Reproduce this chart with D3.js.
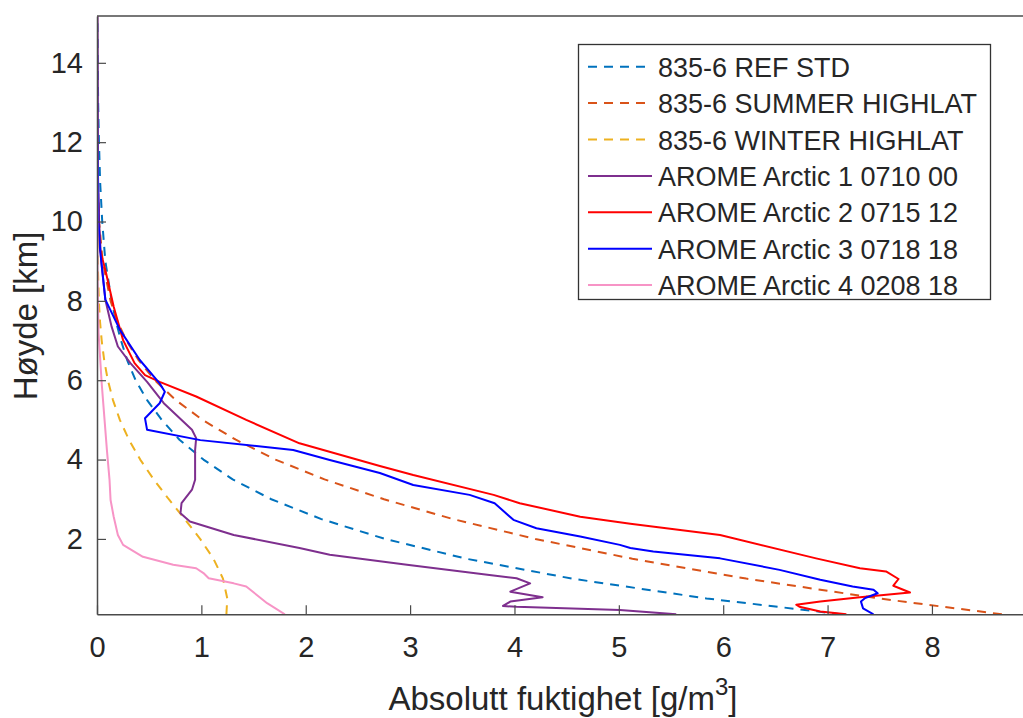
<!DOCTYPE html>
<html><head><meta charset="utf-8">
<script src="https://cdn.jsdelivr.net/npm/d3@7"></script>
<style>
body{margin:0;background:#fff}
svg{display:block}
text{font-family:"Liberation Sans",Arial,Helvetica,sans-serif;fill:#262626}
</style>
</head><body>
<svg id="c" width="1023" height="718"></svg>
<script>
// ---- data (heights in km, absolute humidity in g/m^3) ----
const stdHeights    = [0.1,0.5,1,1.5,2,2.5,3,3.5,4,4.5,5,5.5,6,6.5,7,7.5,8,9,10,11,12,13,14,15];
const refStd        = [7.13,5.84,4.55,3.54,2.76,2.15,1.67,1.30,1.02,0.79,0.62,0.48,0.37,0.29,0.23,0.18,0.14,0.08,0.05,0.03,0.019,0.011,0.007,0.004];
const summerHighlat = [8.67,7.49,6.22,5.13,4.20,3.41,2.75,2.18,1.71,1.33,1.01,0.755,0.554,0.40,0.281,0.193,0.130,0.054,0.020,0.0065,0.002,0.0005,0.0001,0];
const winterHighlat = [1.24,1.248,1.207,1.116,0.988,0.841,0.688,0.543,0.414,0.306,0.219,0.153,0.104,0.069,0.045,0.028,0.018,0.0066,0.0024,0.001,0.0005,0.0002,0.0001,0];

const arome1H = [0.1,0.21,0.29,0.31,0.42,0.53,0.67,0.88,1.01,1.09,1.35,1.60,1.77,2.10,2.44,2.65,2.90,3.24,3.49,4.24,4.54,4.75,5.42,5.96,6.43,6.85,7.35,8.03,9.0,10.0,11.0,12.5,15.2];
const arome1V = [5.55,5.01,4.02,3.89,3.96,4.27,3.96,4.15,4.02,3.76,2.97,2.23,1.94,1.31,0.89,0.80,0.81,0.91,0.94,0.94,0.95,0.91,0.64,0.48,0.32,0.20,0.14,0.08,0.04,0.02,0.01,0.005,0.002];

const arome2H = [0.1,0.17,0.29,0.34,0.42,0.53,0.65,0.82,0.99,1.18,1.26,1.51,2.10,2.38,2.56,2.90,3.11,3.61,3.84,4.41,5.00,5.59,5.96,6.13,6.43,7.01,7.85,8.78,9.28,10,11,13,15.2];
const arome2V = [7.18,6.93,6.73,6.70,6.93,7.31,7.79,7.63,7.68,7.56,7.31,6.89,5.97,5.11,4.63,4.05,3.80,3.03,2.71,1.94,1.43,0.95,0.60,0.46,0.36,0.25,0.16,0.08,0.03,0.015,0.008,0.004,0.002];

const arome3H = [0.1,0.25,0.42,0.51,0.63,0.72,0.80,0.97,1.22,1.51,1.68,1.77,1.85,2.06,2.27,2.48,2.90,3.11,3.36,3.66,3.99,4.24,4.49,4.75,5.04,5.42,5.71,5.92,6.51,7.27,8.03,9.28,10,12,15.2];
const arome3V = [7.44,7.34,7.32,7.36,7.48,7.44,7.24,6.93,6.54,5.97,5.33,5.11,5.01,4.63,4.21,3.99,3.81,3.57,3.03,2.71,2.23,1.88,0.99,0.48,0.46,0.60,0.65,0.60,0.41,0.22,0.08,0.03,0.015,0.006,0.002];

const arome4H = [0.1,0.38,0.80,0.88,1.01,1.14,1.26,1.35,1.55,1.85,2.10,2.56,2.98,3.49,4.24,5.92,7.19,8.5,10,15.2];
const arome4V = [1.80,1.63,1.43,1.31,1.07,1.02,0.95,0.73,0.44,0.25,0.20,0.16,0.13,0.12,0.095,0.045,0.015,0.006,0.003,0.001];

const seriesNames = ["835-6 REF STD","835-6 SUMMER HIGHLAT","835-6 WINTER HIGHLAT",
  "AROME Arctic 1 0710 00","AROME Arctic 2 0715 12","AROME Arctic 3 0718 18","AROME Arctic 4 0208 18"];
const xTicks = [0,1,2,3,4,5,6,7,8];
const yTicks = [2,4,6,8,10,12,14];

// ---- styles ----
const colors = ["#0072BD","#D95319","#EDB120","#7E2F8E","#FF0000","#0000FF","#F794C6"];
const dashed = [true,true,true,false,false,false,false];

const zip = (hs, vs) => hs.map((h,i)=>({h:h, v:vs[i]}));
const series = [
  zip(stdHeights, refStd), zip(stdHeights, summerHighlat), zip(stdHeights, winterHighlat),
  zip(arome1H, arome1V), zip(arome2H, arome2V), zip(arome3H, arome3V), zip(arome4H, arome4V)
];

const svg = d3.select("#c");
const L = 97, R = 1029, T = 16, B = 614.3;
const x = d3.scaleLinear().domain([0, 8.93]).range([L, R]);
const y = d3.scaleLinear().domain([0.1, 15.18]).range([B, T]);

svg.append("defs").append("clipPath").attr("id","clip")
  .append("rect").attr("x",L).attr("y",T).attr("width",R-L).attr("height",B-T);

const line = d3.line().x(d=>x(d.v)).y(d=>y(d.h));
const plot = svg.append("g").attr("clip-path","url(#clip)");
series.forEach((s,i)=>{
  plot.append("path").datum(s).attr("d",line)
    .attr("fill","none").attr("stroke",colors[i]).attr("stroke-width",2)
    .attr("stroke-linejoin","round")
    .attr("stroke-dasharray", dashed[i] ? "9,7" : null);
});

// axes
const axColor = "#4a4a4a";
const gx = svg.append("g").attr("transform",`translate(0,${B})`)
  .call(d3.axisBottom(x).tickValues(xTicks).tickFormat(d3.format("d")).tickSize(-9).tickSizeOuter(0).tickPadding(22));
const gy = svg.append("g").attr("transform",`translate(${L},0)`)
  .call(d3.axisLeft(y).tickValues(yTicks).tickFormat(d3.format("d")).tickSize(-9).tickSizeOuter(0).tickPadding(14));
[gx,gy].forEach(g=>{
  g.select(".domain").attr("stroke",axColor).attr("stroke-width",1.5);
  g.selectAll(".tick line").attr("stroke",axColor).attr("stroke-width",1.2);
  g.selectAll(".tick text").attr("font-size",29).attr("fill","#262626")
    .attr("font-family",'"Liberation Sans",Arial,Helvetica,sans-serif');
});
// box top & right
svg.append("line").attr("x1",L).attr("x2",R).attr("y1",T).attr("y2",T).attr("stroke",axColor).attr("stroke-width",1.5);
svg.append("line").attr("x1",R).attr("x2",R).attr("y1",T).attr("y2",B).attr("stroke",axColor).attr("stroke-width",1.5);

// axis labels
const xl = svg.append("text").attr("x",563).attr("y",710).attr("text-anchor","middle").attr("font-size",33);
xl.append("tspan").text("Absolutt fuktighet [g/m");
xl.append("tspan").text("3").attr("font-size",24).attr("dy",-15);
xl.append("tspan").text("]").attr("dy",15);
svg.append("text").attr("transform","translate(37,316) rotate(-90)")
  .attr("text-anchor","middle").attr("font-size",33).text("Høyde [km]");

// legend
const lg = svg.append("g");
lg.append("rect").attr("x",578.5).attr("y",44.5).attr("width",412).attr("height",255)
  .attr("fill","#fff").attr("stroke","#333").attr("stroke-width",1.3);
seriesNames.forEach((n,i)=>{
  const cy = 66.7 + i*36.4;
  lg.append("line").attr("x1",588).attr("x2",652).attr("y1",cy).attr("y2",cy)
    .attr("stroke",colors[i]).attr("stroke-width",2)
    .attr("stroke-dasharray", dashed[i] ? "9,7" : null);
  lg.append("text").attr("x",658).attr("y",cy+10).attr("font-size",27).text(n);
});
</script>
</body></html>
